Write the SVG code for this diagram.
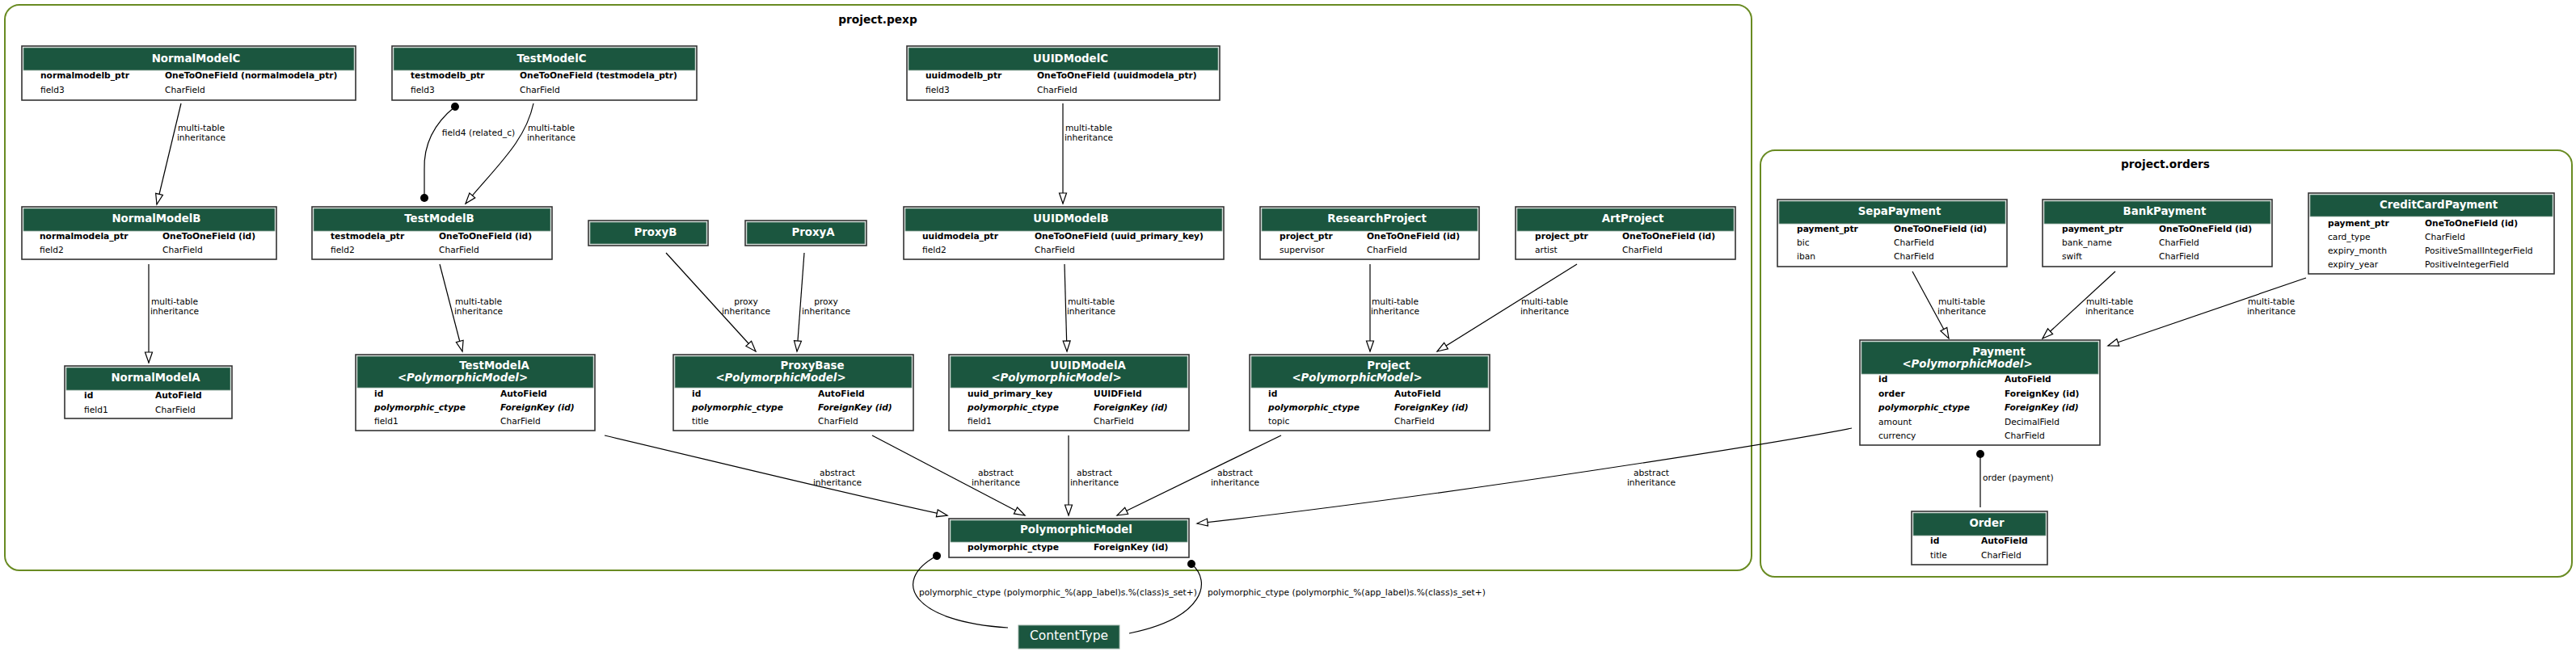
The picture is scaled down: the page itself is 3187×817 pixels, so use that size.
<svg xmlns="http://www.w3.org/2000/svg" width="3187" height="817" viewBox="0 0 3187 817">
<style>
.bg{fill:#fff}
.cl{fill:none;stroke:#698b22;stroke-width:2}
.ctl{font:bold 13.7px "DejaVu Sans",sans-serif;text-anchor:middle;fill:#000}
.box{fill:#fff;stroke:#333;stroke-width:1.6}
.hdr{fill:#1b563f;stroke:#8fa89c;stroke-width:0.8}
.ht{font:bold 13.33px "DejaVu Sans",sans-serif;fill:#fff;text-anchor:middle}
.hti{font:italic bold 13.33px "DejaVu Sans",sans-serif;fill:#fff;text-anchor:middle}
.f{font:10.67px "DejaVu Sans",sans-serif;fill:#000}
.b{font-weight:bold}
.i{font-style:italic}
.e{fill:none;stroke:#000;stroke-width:1.2}
.el{font:10.67px "DejaVu Sans",sans-serif;fill:#000;text-anchor:middle}
.els{font:10.67px "DejaVu Sans",sans-serif;fill:#000}
.ct{font:15.5px "DejaVu Sans",sans-serif;fill:#fff;text-anchor:middle}
</style>
<defs>
<marker id="tri" markerUnits="userSpaceOnUse" markerWidth="16" markerHeight="12" viewBox="-14 -6 16 12" refX="0" refY="0" orient="auto">
<path d="M0,0 L-13,-4.5 L-13,4.5 Z" fill="#fff" stroke="#000" stroke-width="1.2"/>
</marker>
<marker id="dot" markerUnits="userSpaceOnUse" markerWidth="12" markerHeight="12" viewBox="-6 -6 12 12" refX="0" refY="0" orient="auto">
<circle cx="0" cy="0" r="5" fill="#000"/>
</marker>
</defs>
<rect class="bg" x="0" y="0" width="3187" height="817"/>

<g id="cluster-pexp">
<rect class="cl" x="6" y="6" width="2161" height="700" rx="18" ry="18"/>
<text class="ctl" x="1086" y="29">project.pexp</text>
</g>
<g id="cluster-orders">
<rect class="cl" x="2178" y="186" width="1004" height="528" rx="18" ry="18"/>
<text class="ctl" x="2679" y="208">project.orders</text>
</g>

<g id="connectors">
<path class="e" d="M224,128 L194,253" marker-end="url(#tri)"/>
<text class="el" x="249" y="162">multi-table</text><text class="el" x="249" y="174">inheritance</text>

<path class="e" d="M660,128 C650,175 615,205 576,252" marker-end="url(#tri)"/>
<text class="el" x="682" y="162">multi-table</text><text class="el" x="682" y="174">inheritance</text>

<path class="e" d="M563,132 C538,152 524,178 525,210 L525,245" marker-start="url(#dot)" marker-end="url(#dot)"/>
<text class="el" x="592" y="168">field4 (related_c)</text>

<path class="e" d="M1315,128 L1315,252" marker-end="url(#tri)"/>
<text class="el" x="1347" y="162">multi-table</text><text class="el" x="1347" y="174">inheritance</text>

<path class="e" d="M184,327 L184,449" marker-end="url(#tri)"/>
<text class="el" x="216" y="377">multi-table</text><text class="el" x="216" y="389">inheritance</text>

<path class="e" d="M544,327 L572,435" marker-end="url(#tri)"/>
<text class="el" x="592" y="377">multi-table</text><text class="el" x="592" y="389">inheritance</text>

<path class="e" d="M824,313 L935,435" marker-end="url(#tri)"/>
<text class="el" x="923" y="377">proxy</text><text class="el" x="923" y="389">inheritance</text>

<path class="e" d="M995,313 L986,435" marker-end="url(#tri)"/>
<text class="el" x="1022" y="377">proxy</text><text class="el" x="1022" y="389">inheritance</text>

<path class="e" d="M1317,327 L1320,435" marker-end="url(#tri)"/>
<text class="el" x="1350" y="377">multi-table</text><text class="el" x="1350" y="389">inheritance</text>

<path class="e" d="M1695,327 L1695,435" marker-end="url(#tri)"/>
<text class="el" x="1726" y="377">multi-table</text><text class="el" x="1726" y="389">inheritance</text>

<path class="e" d="M1951,327 L1778,435" marker-end="url(#tri)"/>
<text class="el" x="1911" y="377">multi-table</text><text class="el" x="1911" y="389">inheritance</text>

<path class="e" d="M748,539 C880,570 1050,612 1172,638" marker-end="url(#tri)"/>
<text class="el" x="1036" y="589">abstract</text><text class="el" x="1036" y="601">inheritance</text>

<path class="e" d="M1079,539 L1268,638" marker-end="url(#tri)"/>
<text class="el" x="1232" y="589">abstract</text><text class="el" x="1232" y="601">inheritance</text>

<path class="e" d="M1322,539 L1322,638" marker-end="url(#tri)"/>
<text class="el" x="1354" y="589">abstract</text><text class="el" x="1354" y="601">inheritance</text>

<path class="e" d="M1585,539 L1382,638" marker-end="url(#tri)"/>
<text class="el" x="1528" y="589">abstract</text><text class="el" x="1528" y="601">inheritance</text>

<path class="e" d="M2291,530 C2200,548 1800,612 1481,648" marker-end="url(#tri)"/>
<text class="el" x="2043" y="589">abstract</text><text class="el" x="2043" y="601">inheritance</text>

<path class="e" d="M2366,336 L2411,419" marker-end="url(#tri)"/>
<text class="el" x="2427" y="377">multi-table</text><text class="el" x="2427" y="389">inheritance</text>

<path class="e" d="M2617,336 L2527,419" marker-end="url(#tri)"/>
<text class="el" x="2610" y="377">multi-table</text><text class="el" x="2610" y="389">inheritance</text>

<path class="e" d="M2853,344 L2608,428" marker-end="url(#tri)"/>
<text class="el" x="2810" y="377">multi-table</text><text class="el" x="2810" y="389">inheritance</text>

<path class="e" d="M2450,628 L2450,562" marker-end="url(#dot)"/>
<text class="els" x="2453" y="595">order (payment)</text>

<path class="e" d="M1247,777 C1130,770 1100,720 1159,688" marker-end="url(#dot)"/>
<text class="els" x="1137" y="737">polymorphic_ctype (polymorphic_%(app_label)s.%(class)s_set+)</text>

<path class="e" d="M1397,784 C1490,765 1500,720 1474,698" marker-end="url(#dot)"/>
<text class="els" x="1494" y="737">polymorphic_ctype (polymorphic_%(app_label)s.%(class)s_set+)</text>
</g>

<g id="NormalModelC">
<rect class="box" x="27" y="57" width="413" height="67"/>
<rect class="hdr" x="29" y="59" width="409" height="28"/>
<text class="ht" x="242.5" y="77">NormalModelC</text>
<text class="f b" x="50" y="97">normalmodelb_ptr</text><text class="f b" x="204" y="97">OneToOneField (normalmodela_ptr)</text>
<text class="f" x="50" y="115">field3</text><text class="f" x="204" y="115">CharField</text>
</g>

<g id="TestModelC">
<rect class="box" x="485" y="57" width="377" height="67"/>
<rect class="hdr" x="487" y="59" width="373" height="28"/>
<text class="ht" x="682.5" y="77">TestModelC</text>
<text class="f b" x="508" y="97">testmodelb_ptr</text><text class="f b" x="643" y="97">OneToOneField (testmodela_ptr)</text>
<text class="f" x="508" y="115">field3</text><text class="f" x="643" y="115">CharField</text>
</g>

<g id="UUIDModelC">
<rect class="box" x="1122" y="57" width="387" height="67"/>
<rect class="hdr" x="1124" y="59" width="383" height="28"/>
<text class="ht" x="1324.5" y="77">UUIDModelC</text>
<text class="f b" x="1145" y="97">uuidmodelb_ptr</text><text class="f b" x="1283" y="97">OneToOneField (uuidmodela_ptr)</text>
<text class="f" x="1145" y="115">field3</text><text class="f" x="1283" y="115">CharField</text>
</g>

<g id="NormalModelB">
<rect class="box" x="27" y="256" width="315" height="65"/>
<rect class="hdr" x="29" y="258" width="311" height="28"/>
<text class="ht" x="193.5" y="275">NormalModelB</text>
<text class="f b" x="49" y="296">normalmodela_ptr</text><text class="f b" x="201" y="296">OneToOneField (id)</text>
<text class="f" x="49" y="313">field2</text><text class="f" x="201" y="313">CharField</text>
</g>

<g id="TestModelB">
<rect class="box" x="386" y="256" width="297" height="65"/>
<rect class="hdr" x="388" y="258" width="293" height="28"/>
<text class="ht" x="543.5" y="275">TestModelB</text>
<text class="f b" x="409" y="296">testmodela_ptr</text><text class="f b" x="543" y="296">OneToOneField (id)</text>
<text class="f" x="409" y="313">field2</text><text class="f" x="543" y="313">CharField</text>
</g>

<g id="ProxyB">
<rect class="box" x="728" y="273" width="148" height="31"/>
<rect class="hdr" x="730" y="275" width="144" height="27"/>
<text class="ht" x="811" y="292">ProxyB</text>
</g>

<g id="ProxyA">
<rect class="box" x="922" y="273" width="150" height="31"/>
<rect class="hdr" x="924" y="275" width="146" height="27"/>
<text class="ht" x="1006" y="292">ProxyA</text>
</g>

<g id="UUIDModelB">
<rect class="box" x="1118" y="256" width="396" height="65"/>
<rect class="hdr" x="1120" y="258" width="392" height="28"/>
<text class="ht" x="1325" y="275">UUIDModelB</text>
<text class="f b" x="1141" y="296">uuidmodela_ptr</text><text class="f b" x="1280" y="296">OneToOneField (uuid_primary_key)</text>
<text class="f" x="1141" y="313">field2</text><text class="f" x="1280" y="313">CharField</text>
</g>

<g id="ResearchProject">
<rect class="box" x="1559" y="256" width="271" height="65"/>
<rect class="hdr" x="1561" y="258" width="267" height="28"/>
<text class="ht" x="1703.5" y="275">ResearchProject</text>
<text class="f b" x="1583" y="296">project_ptr</text><text class="f b" x="1691" y="296">OneToOneField (id)</text>
<text class="f" x="1583" y="313">supervisor</text><text class="f" x="1691" y="313">CharField</text>
</g>

<g id="ArtProject">
<rect class="box" x="1875" y="256" width="272" height="65"/>
<rect class="hdr" x="1877" y="258" width="268" height="28"/>
<text class="ht" x="2020" y="275">ArtProject</text>
<text class="f b" x="1899" y="296">project_ptr</text><text class="f b" x="2007" y="296">OneToOneField (id)</text>
<text class="f" x="1899" y="313">artist</text><text class="f" x="2007" y="313">CharField</text>
</g>

<g id="NormalModelA">
<rect class="box" x="80" y="453" width="207" height="65"/>
<rect class="hdr" x="82" y="455" width="203" height="28"/>
<text class="ht" x="192.5" y="472">NormalModelA</text>
<text class="f b" x="104" y="493">id</text><text class="f b" x="192" y="493">AutoField</text>
<text class="f" x="104" y="511">field1</text><text class="f" x="192" y="511">CharField</text>
</g>

<g id="TestModelA">
<rect class="box" x="440" y="439" width="296" height="94"/>
<rect class="hdr" x="442" y="441" width="292" height="39"/>
<text class="ht" x="611.5" y="457">TestModelA</text>
<text class="hti" x="572.5" y="472">&lt;PolymorphicModel&gt;</text>
<text class="f b" x="463" y="491">id</text><text class="f b" x="619" y="491">AutoField</text>
<text class="f b i" x="463" y="508">polymorphic_ctype</text><text class="f b i" x="619" y="508">ForeignKey (id)</text>
<text class="f" x="463" y="525">field1</text><text class="f" x="619" y="525">CharField</text>
</g>

<g id="ProxyBase">
<rect class="box" x="833" y="439" width="297" height="94"/>
<rect class="hdr" x="835" y="441" width="293" height="39"/>
<text class="ht" x="1005" y="457">ProxyBase</text>
<text class="hti" x="966" y="472">&lt;PolymorphicModel&gt;</text>
<text class="f b" x="856" y="491">id</text><text class="f b" x="1012" y="491">AutoField</text>
<text class="f b i" x="856" y="508">polymorphic_ctype</text><text class="f b i" x="1012" y="508">ForeignKey (id)</text>
<text class="f" x="856" y="525">title</text><text class="f" x="1012" y="525">CharField</text>
</g>

<g id="UUIDModelA">
<rect class="box" x="1174" y="439" width="297" height="94"/>
<rect class="hdr" x="1176" y="441" width="293" height="39"/>
<text class="ht" x="1346" y="457">UUIDModelA</text>
<text class="hti" x="1307" y="472">&lt;PolymorphicModel&gt;</text>
<text class="f b" x="1197" y="491">uuid_primary_key</text><text class="f b" x="1353" y="491">UUIDField</text>
<text class="f b i" x="1197" y="508">polymorphic_ctype</text><text class="f b i" x="1353" y="508">ForeignKey (id)</text>
<text class="f" x="1197" y="525">field1</text><text class="f" x="1353" y="525">CharField</text>
</g>

<g id="Project">
<rect class="box" x="1546" y="439" width="297" height="94"/>
<rect class="hdr" x="1548" y="441" width="293" height="39"/>
<text class="ht" x="1718" y="457">Project</text>
<text class="hti" x="1679" y="472">&lt;PolymorphicModel&gt;</text>
<text class="f b" x="1569" y="491">id</text><text class="f b" x="1725" y="491">AutoField</text>
<text class="f b i" x="1569" y="508">polymorphic_ctype</text><text class="f b i" x="1725" y="508">ForeignKey (id)</text>
<text class="f" x="1569" y="525">topic</text><text class="f" x="1725" y="525">CharField</text>
</g>

<g id="PolymorphicModel">
<rect class="box" x="1174" y="642" width="297" height="48"/>
<rect class="hdr" x="1176" y="644" width="293" height="27"/>
<text class="ht" x="1331.5" y="660">PolymorphicModel</text>
<text class="f b" x="1197" y="681">polymorphic_ctype</text><text class="f b" x="1353" y="681">ForeignKey (id)</text>
</g>

<g id="ContentType">
<rect x="1260" y="774" width="125" height="29" fill="#1b563f" stroke="#8fa89c" stroke-width="1"/>
<text class="ct" x="1322.5" y="792">ContentType</text>
</g>

<g id="SepaPayment">
<rect class="box" x="2199" y="247" width="284" height="83"/>
<rect class="hdr" x="2201" y="249" width="280" height="28"/>
<text class="ht" x="2350" y="266">SepaPayment</text>
<text class="f b" x="2223" y="287">payment_ptr</text><text class="f b" x="2343" y="287">OneToOneField (id)</text>
<text class="f" x="2223" y="304">bic</text><text class="f" x="2343" y="304">CharField</text>
<text class="f" x="2223" y="321">iban</text><text class="f" x="2343" y="321">CharField</text>
</g>

<g id="BankPayment">
<rect class="box" x="2527" y="247" width="284" height="83"/>
<rect class="hdr" x="2529" y="249" width="280" height="28"/>
<text class="ht" x="2678" y="266">BankPayment</text>
<text class="f b" x="2551" y="287">payment_ptr</text><text class="f b" x="2671" y="287">OneToOneField (id)</text>
<text class="f" x="2551" y="304">bank_name</text><text class="f" x="2671" y="304">CharField</text>
<text class="f" x="2551" y="321">swift</text><text class="f" x="2671" y="321">CharField</text>
</g>

<g id="CreditCardPayment">
<rect class="box" x="2856" y="239" width="304" height="100"/>
<rect class="hdr" x="2858" y="241" width="300" height="27"/>
<text class="ht" x="3017" y="258">CreditCardPayment</text>
<text class="f b" x="2880" y="280">payment_ptr</text><text class="f b" x="3000" y="280">OneToOneField (id)</text>
<text class="f" x="2880" y="297">card_type</text><text class="f" x="3000" y="297">CharField</text>
<text class="f" x="2880" y="314">expiry_month</text><text class="f" x="3000" y="314">PositiveSmallIntegerField</text>
<text class="f" x="2880" y="331">expiry_year</text><text class="f" x="3000" y="331">PositiveIntegerField</text>
</g>

<g id="Payment">
<rect class="box" x="2301" y="421" width="297" height="130"/>
<rect class="hdr" x="2303" y="423" width="293" height="40"/>
<text class="ht" x="2473" y="440">Payment</text>
<text class="hti" x="2434" y="455">&lt;PolymorphicModel&gt;</text>
<text class="f b" x="2324" y="473">id</text><text class="f b" x="2480" y="473">AutoField</text>
<text class="f b" x="2324" y="491">order</text><text class="f b" x="2480" y="491">ForeignKey (id)</text>
<text class="f b i" x="2324" y="508">polymorphic_ctype</text><text class="f b i" x="2480" y="508">ForeignKey (id)</text>
<text class="f" x="2324" y="526">amount</text><text class="f" x="2480" y="526">DecimalField</text>
<text class="f" x="2324" y="543">currency</text><text class="f" x="2480" y="543">CharField</text>
</g>

<g id="Order">
<rect class="box" x="2365" y="633" width="168" height="66"/>
<rect class="hdr" x="2367" y="635" width="164" height="28"/>
<text class="ht" x="2458" y="652">Order</text>
<text class="f b" x="2388" y="673">id</text><text class="f b" x="2451" y="673">AutoField</text>
<text class="f" x="2388" y="691">title</text><text class="f" x="2451" y="691">CharField</text>
</g>
</svg>
